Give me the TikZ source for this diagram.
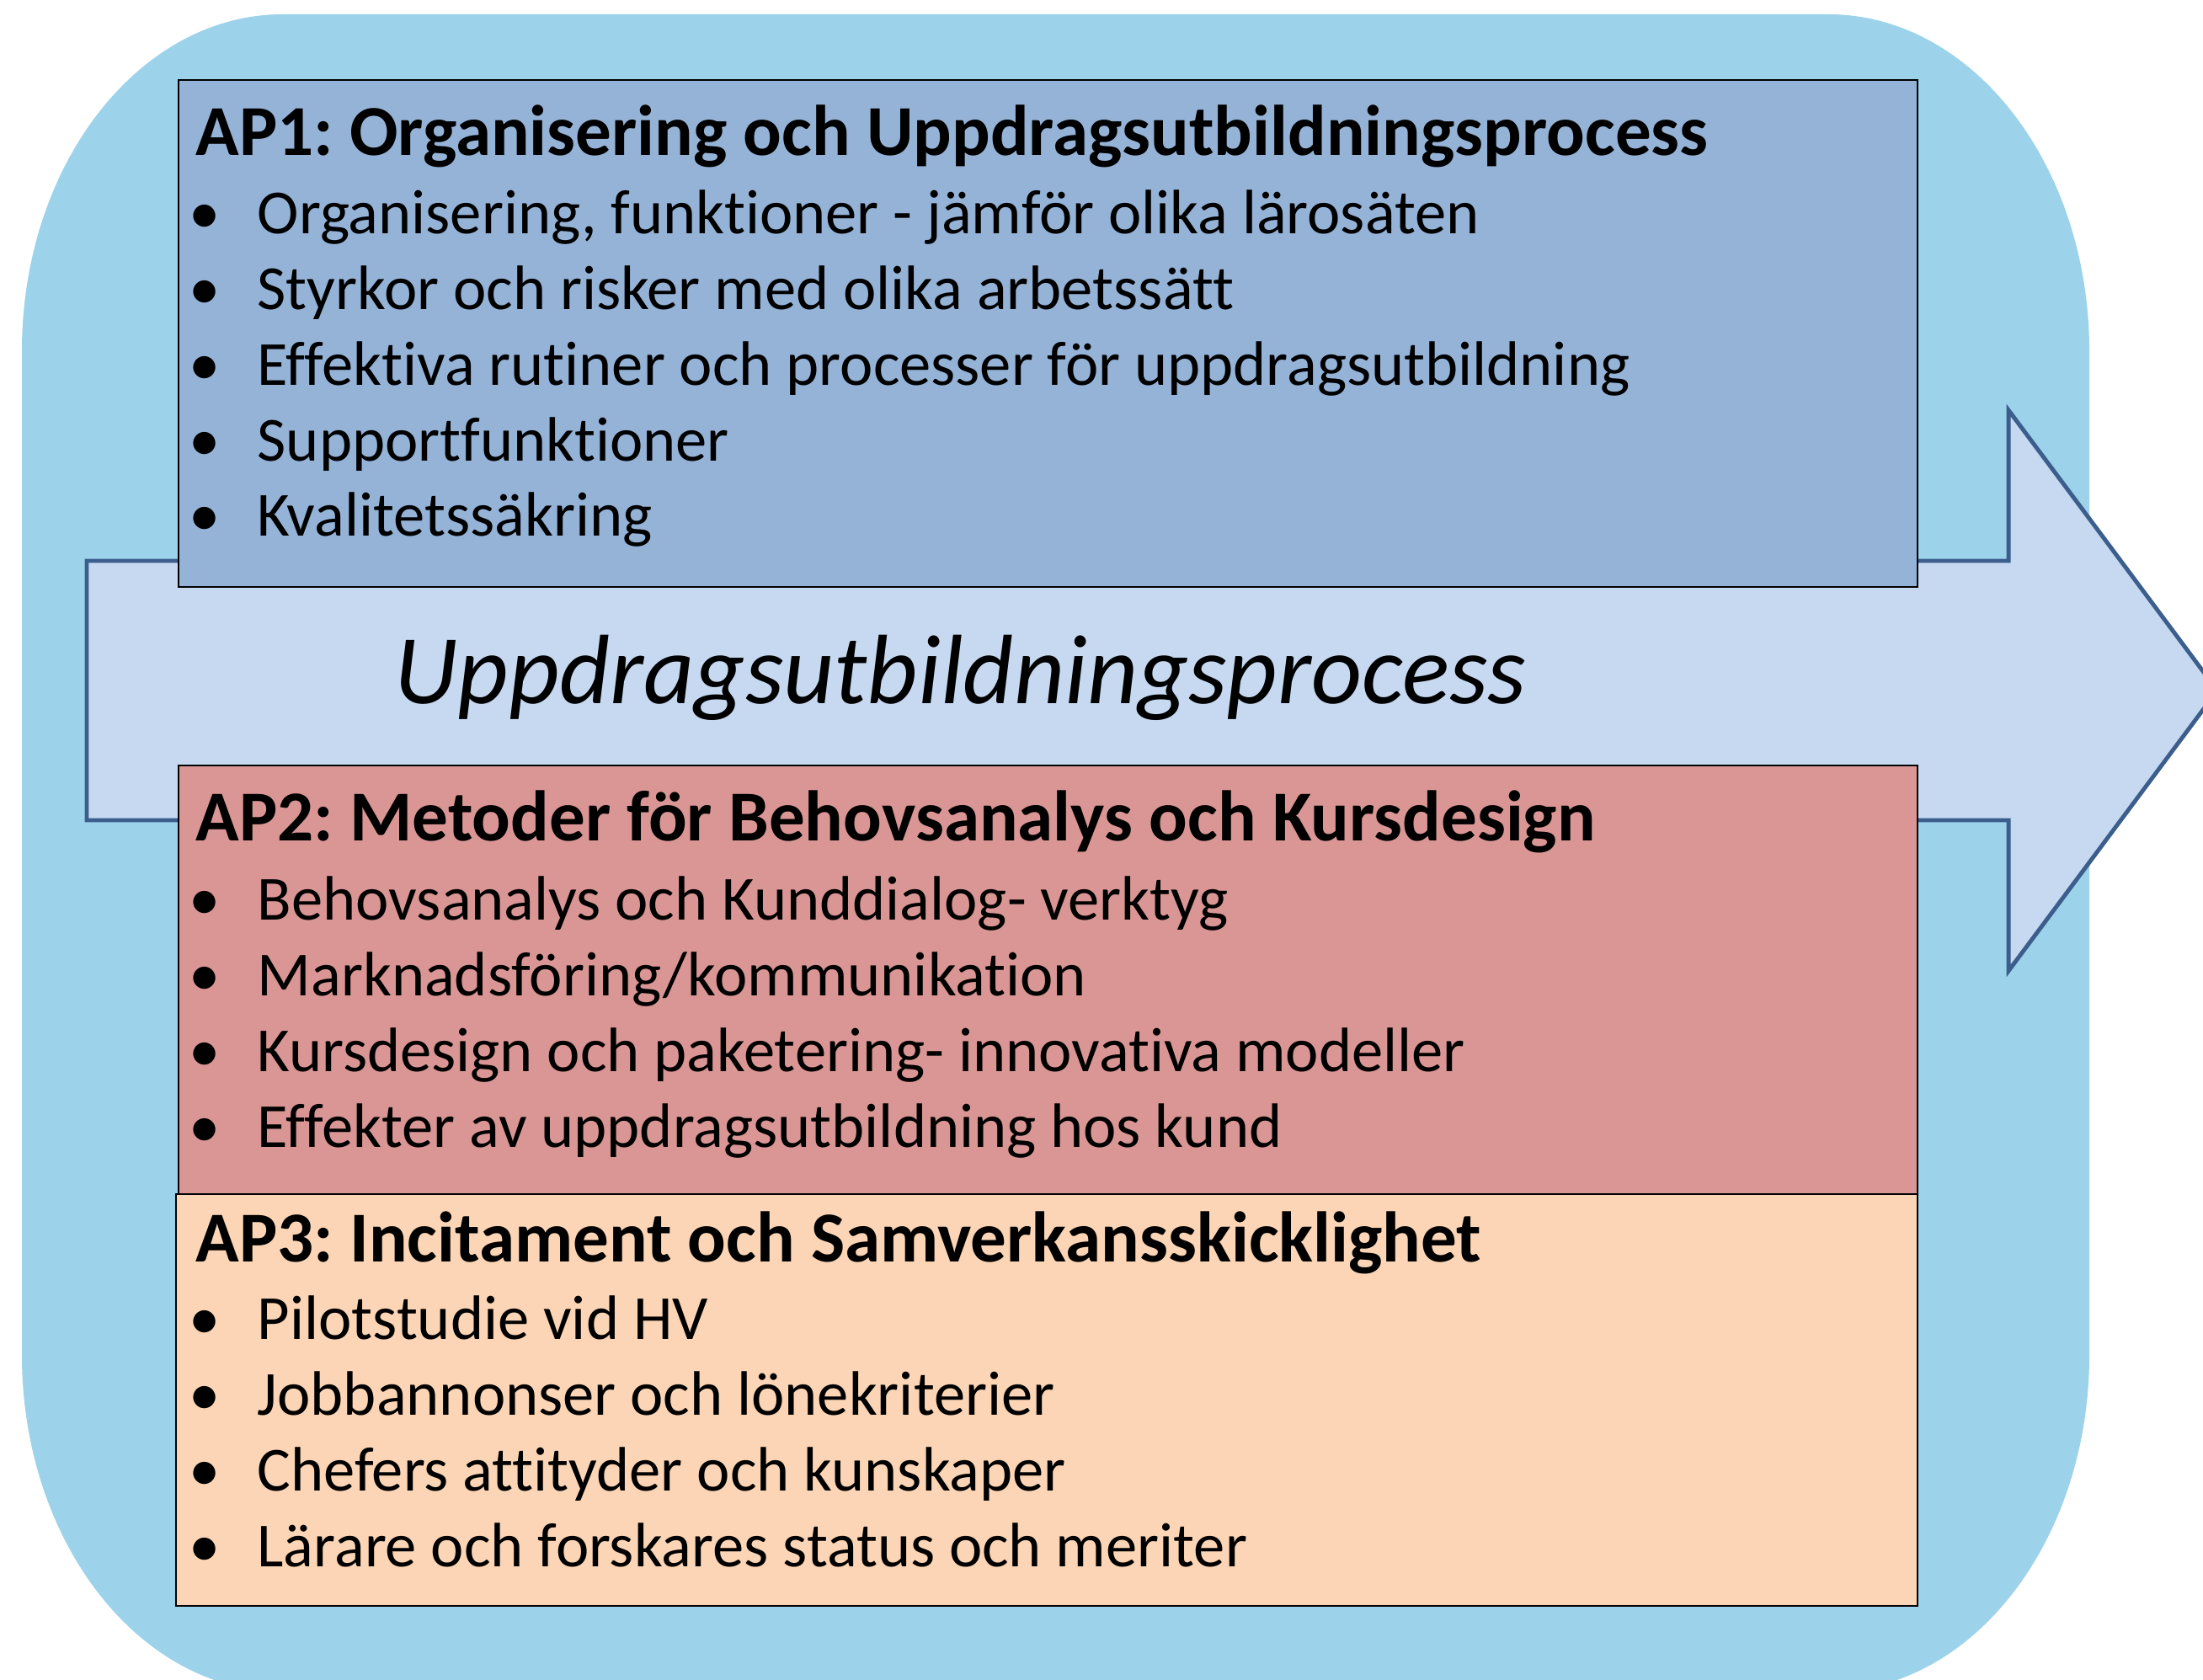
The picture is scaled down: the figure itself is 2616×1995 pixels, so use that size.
\documentclass[tikz,border=0pt]{standalone}
\usepackage{fontspec}
\setmainfont{Carlito}[Ligatures={NoCommon,NoContextual}]
\frenchspacing
\definecolor{bgblue}{HTML}{9DD3EA}
\definecolor{arrowfill}{HTML}{C6D9F1}
\definecolor{arrowline}{HTML}{3B5E8C}
\definecolor{apblue}{HTML}{95B3D7}
\definecolor{apred}{HTML}{D99694}
\definecolor{appeach}{HTML}{FBD5B5}

\begin{document}
\begin{tikzpicture}[x=0.01cm,y=-0.01cm,
    apbox/.style={draw=black,line width=0.8pt},
    aptitle/.style={anchor=base west,inner sep=0pt,
                    font=\fontsize{24.2}{28}\selectfont\bfseries},
    apitem/.style={anchor=base west,inner sep=0pt,
                   font=\fontsize{21.2}{26}\selectfont}]
    \useasboundingbox (0,0) rectangle (2616,1995);
    \clip (0,0) rectangle (2616,1995);
    % rounded backdrop
    \fill[bgblue] (336,17) -- (2171,17)
                  .. controls (2342,17) and (2481,196) .. (2481,417) --
                  (2481,1609)
                  .. controls (2481,1830) and (2342,2009) .. (2171,2009) --
                  (336,2009)
                  .. controls (165,2009) and (26,1830) .. (26,1609) --
                  (26,417)
                  .. controls (26,196) and (165,17) .. cycle;
    % process arrow
    \draw[arrowline,fill=arrowfill,line width=1.4pt]
                  ( 103, 666) --
                  (2385, 666) --
                  (2385, 487) --
                  (2633, 820) --
                  (2385,1153) --
                  (2385, 974) --
                  ( 103, 974) -- cycle;
    \node[anchor=base west,inner sep=0pt,
          font=\fontsize{33.3}{40}\selectfont\itshape] (process) at (468,835)
          {Uppdragsutbildningsprocess};
    % AP1
    \draw[apbox,fill=apblue] (212,95) rectangle (2277,697);
    \node[aptitle] (ap1) at (232,185)
          {AP1: Organisering och Uppdragsutbildningsprocess};
    \foreach \txt [count=\i] in {{Organisering, funktioner - jämför olika lärosäten},
                                 {Styrkor och risker med olika arbetssätt},
                                 {Effektiva rutiner och processer för uppdragsutbildning},
                                 {Supportfunktioner},
                                 {Kvalitetssäkring}}
        \node[apitem] (ap1-\i) at (305,{278+89.7*(\i-1)}) {\llap{•\hspace{0.44cm}}\txt};
    % AP2
    \draw[apbox,fill=apred] (212,909) rectangle (2277,1418);
    \node[aptitle] (ap2) at (232,998)
          {AP2: Metoder för Behovsanalys och Kursdesign};
    \foreach \txt [count=\i] in {{Behovsanalys och Kunddialog- verktyg},
                                 {Marknadsföring/kommunikation},
                                 {Kursdesign och paketering- innovativa modeller},
                                 {Effekter av uppdragsutbildning hos kund}}
        \node[apitem] (ap2-\i) at (305,{1092+90*(\i-1)}) {\llap{•\hspace{0.44cm}}\txt};
    % AP3
    \draw[apbox,fill=appeach] (209,1418) rectangle (2277,1907);
    \node[aptitle] (ap3) at (232,1498)
          {AP3: Incitament och Samverkansskicklighet};
    \foreach \txt [count=\i] in {{Pilotstudie vid HV},
                                 {Jobbannonser och lönekriterier},
                                 {Chefers attityder och kunskaper},
                                 {Lärare och forskares status och meriter}}
        \node[apitem] (ap3-\i) at (305,{1590+90*(\i-1)}) {\llap{•\hspace{0.44cm}}\txt};
\end{tikzpicture}
\end{document}
